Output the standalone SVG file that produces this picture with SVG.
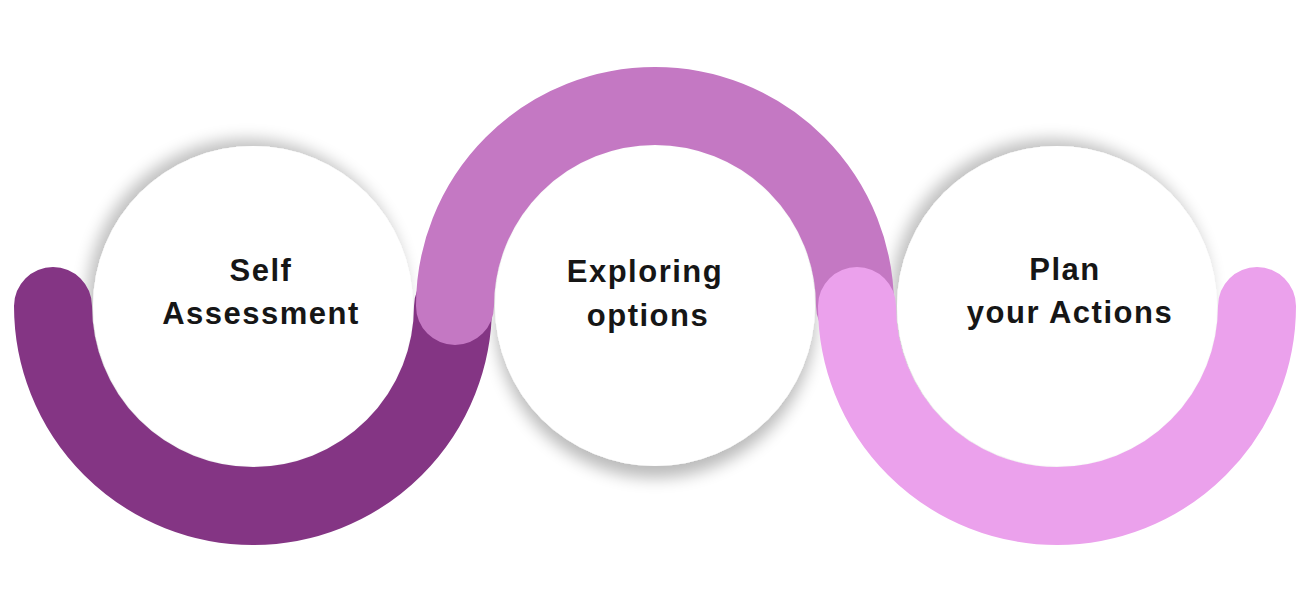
<svg xmlns="http://www.w3.org/2000/svg" width="1312" height="600" viewBox="0 0 1312 600">
  <defs>
    <filter id="shUL" x="-30%" y="-30%" width="160%" height="160%">
      <feGaussianBlur in="SourceAlpha" stdDeviation="8"/>
      <feOffset dx="-6" dy="-7" result="b"/>
      <feComponentTransfer><feFuncA type="linear" slope="0.25"/></feComponentTransfer>
      <feMerge><feMergeNode/><feMergeNode in="SourceGraphic"/></feMerge>
    </filter>
    <filter id="shDown" x="-30%" y="-30%" width="160%" height="160%">
      <feGaussianBlur in="SourceAlpha" stdDeviation="8"/>
      <feOffset dx="0" dy="12" result="b"/>
      <feComponentTransfer><feFuncA type="linear" slope="0.27"/></feComponentTransfer>
      <feMerge><feMergeNode/><feMergeNode in="SourceGraphic"/></feMerge>
    </filter>
  </defs>
  <style>
    .disc { fill: #ffffff; }
    .arc { fill: none; stroke-width: 78; stroke-linecap: round; }
    .lbl { font-family: "Liberation Sans", Arial, sans-serif; font-weight: bold; font-size: 31px; letter-spacing: 1.5px; fill: #161616; text-anchor: middle; }
  </style>
  <rect width="1312" height="600" fill="#ffffff"/>

  <g id="discs">
    <circle class="disc" cx="253" cy="306" r="160" filter="url(#shUL)"/>
    <circle class="disc" cx="655" cy="306" r="160" filter="url(#shDown)"/>
    <circle class="disc" cx="1057" cy="306" r="160" filter="url(#shUL)"/>
  </g>

  <g id="connectors">
    <path class="arc" stroke="#843584" d="M 53 306 A 200 200 0 0 0 453 306"/>
    <path class="arc" stroke="#c478c3" d="M 455 306 A 200 200 0 0 1 855 306"/>
    <path class="arc" stroke="#eba1ec" d="M 857 306 A 200 200 0 0 0 1257 306"/>
  </g>

  <g id="node-self-assessment">
    <text class="lbl" x="261" y="281">Self</text>
    <text class="lbl" x="261" y="324">Assessment</text>
  </g>
  <g id="node-exploring-options">
    <text class="lbl" x="645" y="282">Exploring</text>
    <text class="lbl" x="648" y="326">options</text>
  </g>
  <g id="node-plan-actions">
    <text class="lbl" x="1065" y="280">Plan</text>
    <text class="lbl" x="1070" y="323">your Actions</text>
  </g>
</svg>
